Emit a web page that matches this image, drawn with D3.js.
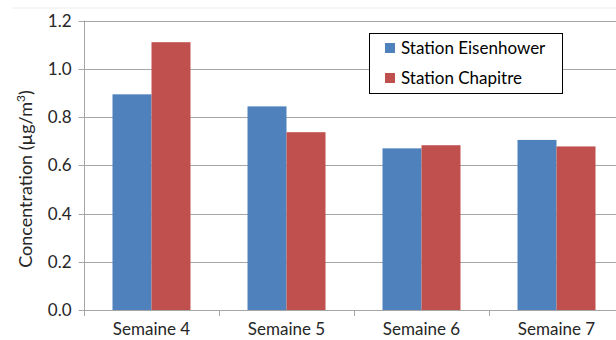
<!DOCTYPE html>
<html><head><meta charset="utf-8">
<script src="https://cdn.jsdelivr.net/npm/d3@7"></script>
<style>body{margin:0;background:#fff}svg{display:block}</style>
</head><body>
<script>
const categories = ["Semaine 4","Semaine 5","Semaine 6","Semaine 7"];
const seriesNames = ["Station Eisenhower","Station Chapitre"];
const eisenhower = [0.894, 0.844, 0.670, 0.705];
const chapitre = [1.110, 0.737, 0.683, 0.678];
const yTicks = [0.0,0.2,0.4,0.6,0.8,1.0,1.2];
const colors = ["#4f81bd","#c0504d"];

(function(){
const W=616,H=340;
const svg=d3.select("body").append("svg").attr("width",W).attr("height",H);
const font="Lato, sans-serif";
const fs=17;
const pL=84,pR=624,pT=20.5,pB=310;
const x=d3.scaleBand().domain(categories).range([pL,pR]).paddingInner(57/135).paddingOuter(28.5/135);
const xs=d3.scaleBand().domain(seriesNames).range([0,x.bandwidth()]);
const y=d3.scaleLinear().domain([0,1.2]).range([pB,pT]);

svg.append("line").attr("x1",12).attr("x2",W).attr("y1",8).attr("y2",8).attr("stroke","#ececec");

svg.append("g").selectAll("line").data(yTicks).join("line")
 .attr("x1",pL).attr("x2",W).attr("y1",d=>Math.round(y(d))+0.5).attr("y2",d=>Math.round(y(d))+0.5)
 .attr("stroke","#a6a6a6").attr("stroke-width",1);

const data=[eisenhower,chapitre];
const g=svg.append("g");
categories.forEach((c,i)=>{
  seriesNames.forEach((s,j)=>{
    g.append("rect").attr("x",x(c)+xs(s)).attr("width",xs.bandwidth())
     .attr("y",y(data[j][i])).attr("height",y(0)-y(data[j][i])).attr("fill",colors[j]);
  });
});

const ya=svg.append("g").attr("transform",`translate(${pL+0.5},0)`)
 .call(d3.axisLeft(y).tickValues(yTicks).tickFormat(d3.format(".1f")).tickSize(6).tickPadding(7));
ya.select(".domain").attr("stroke","#a6a6a6").attr("d",`M0,${pT}V${pB}`);
ya.selectAll(".tick line").attr("stroke","#a6a6a6");
ya.selectAll("text").attr("font-family",font).attr("font-size",fs).attr("fill","#262626");
ya.selectAll(".tick").attr("transform",d=>`translate(0,${Math.round(y(d))+0.5})`);

const xa=svg.append("g").attr("transform",`translate(0,${pB+0.5})`)
 .call(d3.axisBottom(x).tickSize(0).tickPadding(12));
xa.select(".domain").attr("stroke","#a6a6a6").attr("d",`M${pL},0H${W}`);
xa.selectAll("text").attr("font-family",font).attr("font-size",fs).attr("fill","#262626");
const bounds=[pL,...categories.map(c=>x(c)+x.bandwidth()+x.step()*x.paddingInner()/2)];
svg.append("g").selectAll("line").data(bounds).join("line")
 .attr("x1",d=>Math.round(d)+0.5).attr("x2",d=>Math.round(d)+0.5).attr("y1",pB).attr("y2",pB+6)
 .attr("stroke","#a6a6a6");

svg.append("text").attr("transform",`translate(32,179) rotate(-90)`)
 .attr("text-anchor","middle").attr("font-family",font).attr("font-size",18).attr("fill","#262626")
 .html('Concentration (µg/m<tspan dy="-7" font-size="12">3</tspan><tspan dy="7">)</tspan>');

const lg=svg.append("g");
lg.append("rect").attr("x",369.5).attr("y",33.5).attr("width",193).attr("height",60).attr("fill","#fff").attr("stroke","#000");
seriesNames.forEach((s,j)=>{
  const cy=48+j*30;
  lg.append("rect").attr("x",385).attr("y",cy-5).attr("width",10).attr("height",10).attr("fill",colors[j]);
  lg.append("text").attr("x",401).attr("y",cy+6).attr("font-family",font).attr("font-size",fs).attr("fill","#000").text(s);
});
})();
</script>
</body></html>
